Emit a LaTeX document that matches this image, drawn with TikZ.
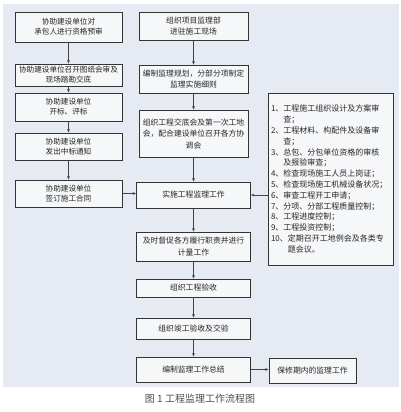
\documentclass[tikz,border=0pt]{standalone}
\usepackage{fontspec}
\setmainfont{Noto Sans CJK SC}
\usetikzlibrary{arrows.meta,shadows}
\definecolor{panel}{HTML}{E6EBF3}
\definecolor{boxfill}{HTML}{F6F7F9}
\definecolor{boxline}{HTML}{333333}
\definecolor{txt}{HTML}{262626}
\definecolor{arr}{HTML}{444444}
\begin{document}
\begin{tikzpicture}[x=1pt,y=-1pt,
  flowbox/.style={draw=boxline, fill=boxfill, line width=0.9pt, inner sep=1pt,
    align=center, text=txt,
    drop shadow={shadow xshift=0.8pt,shadow yshift=-0.8pt,fill=black!50,opacity=0.5}},
  lbox/.style={flowbox, minimum width=107pt, font=\fontsize{7.6}{10}\selectfont},
  mbox/.style={flowbox, font=\fontsize{7.8}{11.5}\selectfont},
  conn/.style={draw=arr, line width=0.6pt, -{Stealth[length=3.4pt,width=2.8pt]}}]
\useasboundingbox (0,0) rectangle (400,412);
\fill[panel] (3,4) rectangle (399,387);

% left column
\node[lbox, minimum height=30pt] (L1) at (68.5,27) {协助建设单位对\\承包人进行资格预审};
\node[lbox, minimum height=22pt] (L2) at (68.5,75) {协助建设单位召开图纸会审及\\现场踏勘交底};
\node[lbox, minimum height=28pt] (L3) at (68.5,107) {协助建设单位\\开标、评标};
\node[lbox, minimum height=27pt] (L4) at (68.5,146.5) {协助建设单位\\发出中标通知};
\node[lbox, minimum height=27pt] (L5) at (68.5,193.5) {协助建设单位\\签订施工合同};

% middle column
\node[mbox, minimum width=109pt, minimum height=28pt] (M1) at (193.5,26) {组织项目监理部\\进驻施工现场};
\node[mbox, minimum width=109pt, minimum height=28pt] (M2) at (193.5,79) {编制监理规划，分部分项制定\\监理实施细则};
\node[mbox, minimum width=109pt, minimum height=47pt] (M3) at (193.5,133.5) {组织工程交底会及第一次工地\\会，配合建设单位召开各方协\\调会};
\node[mbox, minimum width=114pt, minimum height=26pt] (M4) at (193.5,195) {实施工程监理工作};
\node[mbox, minimum width=114pt, minimum height=29pt] (M5) at (193.5,246.5) {及时督促各方履行职责并进行\\计量工作};
\node[mbox, minimum width=114pt, minimum height=18pt] (M6) at (193.5,288) {组织工程验收};
\node[mbox, minimum width=114pt, minimum height=21pt] (M7) at (193.5,328.5) {组织竣工验收及交验};
\node[mbox, minimum width=114pt, minimum height=25pt] (M8) at (193.5,369.5) {编制监理工作总结};

% right column
\node[flowbox, minimum width=125pt, minimum height=172pt, text width=119pt, inner xsep=3pt,
  align=left, font=\fontsize{8}{10.8}\selectfont] (R1) at (330.5,179) {%
1、工程施工组织设计及方案审\\
\phantom{1、}查；\\
2、工程材料、构配件及设备审\\
\phantom{2、}查；\\
3、总包、分包单位资格的审核\\
\phantom{3、}及报验审查；\\
4、检查现场施工人员上岗证；\\
5、检查现场施工机械设备状况；\\
6、审查工程开工申请；\\
7、分项、分部工程质量控制；\\
8、工程进度控制；\\
9、工程投资控制；\\
10、定期召开工地例会及各类专\\
\phantom{10、}题会议。};
\node[mbox, minimum width=87pt, minimum height=25pt] (R2) at (312.5,370.5) {保修期内的监理工作};

% caption
\node[font=\fontsize{10}{12}\selectfont, text=black!70] (cap) at (200,399) {图 1\ 工程监理工作流程图};

% connectors
\draw[conn] (L1) -- (L2);
\draw[conn] (L2) -- (L3);
\draw[conn] (L3) -- (L4);
\draw[conn] (L4) -- (L5);
\draw[conn] (L5.east) -- (M4.west |- L5.east);
\draw[conn] (M1) -- (M2);
\draw[conn] (M2) -- (M3);
\draw[conn] (M3) -- (M4);
\draw[conn] (M4) -- (M5);
\draw[conn] (M5) -- (M6);
\draw[conn] (M6) -- (M7);
\draw[conn] (M7) -- (M8);
\draw[conn] (R1.west |- M4.east) -- (M4.east);
\draw[conn] (M8.east) -- (R2.west |- M8.east);
\end{tikzpicture}
\end{document}
